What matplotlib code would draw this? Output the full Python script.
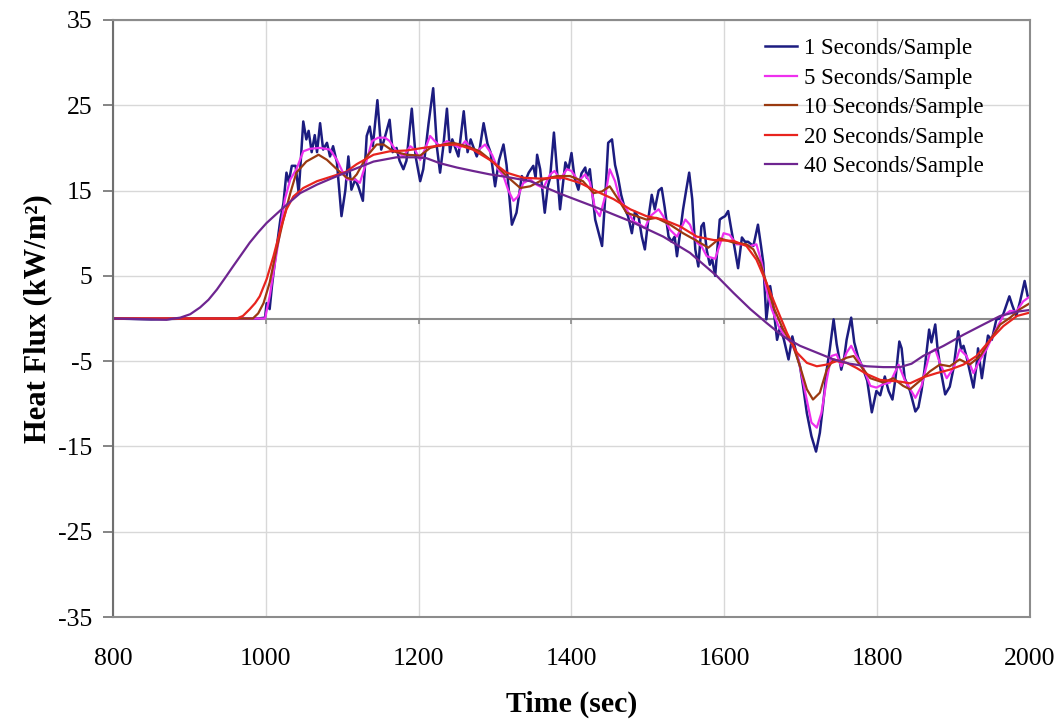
import numpy as np
import matplotlib
matplotlib.use("Agg")
import matplotlib.pyplot as plt

plt.rcParams['font.family'] = ['Liberation Serif', 'DejaVu Serif']
plt.rcParams['axes.unicode_minus'] = False

# heat flux readings (time s, kW/m2) at each sampling rate
flux_1s = [
    (800, 0.0), (850, -0.1), (900, 0.0), (950, 0.0), (990, 0.0), (999, 0.1),
    (1001, 1.8), (1005, 1.1), (1008, 3.8), (1013, 7.5), (1019, 11.6), (1023, 13.5),
    (1027, 17.1), (1030, 16.0), (1034, 17.9), (1039, 17.9), (1043, 14.7), (1049, 23.1),
    (1053, 21.0), (1056, 22.0), (1060, 19.5), (1064, 21.5), (1067, 19.5), (1071, 22.9),
    (1075, 19.8), (1080, 20.6), (1084, 19.0), (1088, 20.2), (1093, 18.3), (1099, 12.0),
    (1104, 15.0), (1108, 19.0), (1112, 15.1), (1117, 16.3), (1121, 15.5), (1127, 13.8),
    (1132, 21.4), (1136, 22.5), (1140, 20.2), (1146, 25.6), (1151, 19.8), (1155, 21.0),
    (1162, 23.3), (1166, 19.5), (1171, 20.0), (1175, 18.5), (1180, 17.5), (1184, 18.5),
    (1191, 24.6), (1196, 19.0), (1202, 16.1), (1206, 17.5), (1213, 22.9), (1219, 27.0),
    (1224, 20.0), (1228, 17.1), (1232, 20.0), (1237, 24.6), (1241, 19.5), (1244, 21.0),
    (1248, 20.0), (1252, 19.0), (1259, 24.3), (1264, 19.5), (1268, 21.0), (1276, 19.0),
    (1280, 20.0), (1285, 22.9), (1290, 20.5), (1294, 19.5), (1300, 15.5), (1305, 18.5),
    (1311, 20.4), (1315, 18.0), (1322, 11.0), (1328, 12.4), (1335, 16.7), (1339, 16.0),
    (1344, 17.1), (1350, 17.9), (1353, 16.5), (1355, 19.2), (1359, 17.5), (1365, 12.4),
    (1369, 15.5), (1372, 16.5), (1377, 21.8), (1380, 18.5), (1385, 12.8), (1389, 16.0),
    (1392, 18.3), (1396, 17.5), (1400, 19.4), (1404, 16.5), (1409, 15.1), (1413, 17.0),
    (1418, 17.7), (1420, 16.5), (1424, 17.5), (1427, 15.0), (1431, 11.6), (1440, 8.5),
    (1444, 14.0), (1448, 20.6), (1453, 21.0), (1457, 18.0), (1461, 16.5), (1465, 14.5),
    (1470, 12.8), (1474, 12.0), (1479, 10.0), (1483, 12.5), (1488, 11.8), (1492, 9.6),
    (1496, 8.1), (1501, 12.0), (1505, 14.5), (1509, 12.8), (1514, 15.0), (1518, 15.3),
    (1522, 13.0), (1527, 9.6), (1531, 9.0), (1535, 9.6), (1538, 7.3), (1542, 10.0),
    (1546, 12.8), (1550, 15.0), (1554, 17.1), (1558, 14.0), (1562, 8.1), (1566, 6.1),
    (1570, 10.8), (1573, 11.2), (1577, 8.0), (1581, 6.3), (1584, 7.0), (1588, 5.0),
    (1594, 11.6), (1597, 11.8), (1601, 12.0), (1605, 12.6), (1609, 10.5), (1613, 8.5),
    (1618, 5.9), (1623, 9.5), (1627, 9.0), (1631, 9.0), (1638, 8.5), (1644, 11.0),
    (1648, 8.5), (1651, 6.5), (1655, -0.1), (1660, 3.8), (1664, 1.5), (1669, -2.5),
    (1673, -1.0), (1678, -2.5), (1684, -4.8), (1689, -2.1), (1694, -4.0), (1699, -5.6),
    (1703, -7.9), (1708, -11.1), (1714, -13.8), (1720, -15.6), (1725, -13.4), (1729, -10.3),
    (1734, -6.0), (1738, -3.6), (1743, -0.1), (1747, -3.0), (1753, -6.0), (1757, -4.5),
    (1760, -2.5), (1766, 0.1), (1770, -2.8), (1775, -4.5), (1782, -6.0), (1787, -7.3),
    (1793, -11.0), (1799, -8.5), (1804, -9.0), (1810, -6.8), (1815, -8.5), (1820, -9.5),
    (1824, -7.0), (1829, -2.7), (1832, -3.5), (1836, -7.0), (1843, -8.5), (1850, -10.9),
    (1854, -10.4), (1858, -8.5), (1862, -6.0), (1868, -1.3), (1871, -2.8), (1876, -0.7),
    (1879, -3.5), (1883, -6.0), (1889, -8.9), (1895, -8.0), (1900, -5.8), (1906, -1.5),
    (1910, -3.6), (1913, -3.2), (1917, -4.5), (1926, -8.1), (1930, -5.5), (1932, -3.5),
    (1937, -7.0), (1941, -4.5), (1945, -2.0), (1950, -2.5), (1956, -0.1), (1961, 0.0),
    (1965, 0.5), (1973, 2.6), (1977, 1.5), (1982, 0.3), (1987, 2.0), (1993, 4.4),
    (1997, 2.6), (2000, 2.5),
]

flux_5s = [
    (800, 0.0), (900, 0.0), (990, 0.0), (999, 0.0), (1005, 2.6), (1012, 6.5),
    (1019, 10.4), (1025, 14.0), (1032, 16.3), (1040, 17.5), (1049, 19.6), (1058, 19.9),
    (1071, 20.0), (1084, 19.8), (1093, 18.6), (1101, 17.1), (1106, 16.3), (1117, 16.3),
    (1123, 15.9), (1130, 17.9), (1139, 20.8), (1147, 21.2), (1156, 21.2), (1162, 20.8),
    (1171, 19.6), (1180, 19.0), (1189, 20.2), (1195, 19.8), (1202, 18.6), (1208, 19.8),
    (1215, 21.4), (1221, 20.8), (1228, 20.2), (1237, 20.8), (1245, 20.4), (1254, 20.0),
    (1261, 20.8), (1268, 20.0), (1276, 19.6), (1287, 20.4), (1296, 19.2), (1304, 17.5),
    (1311, 16.7), (1317, 15.1), (1324, 13.8), (1330, 14.3), (1337, 15.9), (1346, 16.3),
    (1354, 15.7), (1363, 15.3), (1372, 16.9), (1378, 17.3), (1385, 16.3), (1394, 17.5),
    (1400, 17.3), (1409, 16.1), (1418, 16.9), (1424, 16.0), (1431, 12.8), (1437, 12.0),
    (1444, 14.3), (1450, 17.5), (1457, 16.1), (1463, 14.0), (1472, 12.8), (1481, 11.4),
    (1490, 11.0), (1496, 10.6), (1503, 12.0), (1514, 12.8), (1520, 12.0), (1529, 10.4),
    (1538, 9.6), (1549, 11.6), (1555, 11.0), (1564, 8.9), (1570, 8.5), (1577, 7.3),
    (1588, 7.0), (1599, 10.0), (1607, 9.8), (1616, 8.7), (1625, 8.7), (1634, 8.5),
    (1642, 8.7), (1649, 6.5), (1655, 3.4), (1662, 1.1), (1671, -0.9), (1679, -2.1),
    (1688, -2.9), (1697, -4.8), (1706, -8.7), (1714, -12.2), (1721, -12.8), (1727, -11.1),
    (1734, -7.2), (1740, -4.4), (1747, -4.2), (1753, -5.6), (1760, -4.0), (1766, -3.2),
    (1773, -4.4), (1782, -5.8), (1791, -7.9), (1799, -8.1), (1808, -7.7), (1817, -7.5),
    (1828, -5.4), (1836, -7.2), (1850, -9.3), (1858, -7.9), (1869, -4.0), (1876, -3.6),
    (1882, -5.2), (1891, -7.0), (1900, -5.8), (1908, -3.6), (1917, -4.4), (1926, -6.4),
    (1935, -4.8), (1943, -3.6), (1952, -1.9), (1965, 0.3), (1974, 0.9), (1982, 0.8),
    (1991, 2.0), (2000, 2.6),
]

flux_10s = [
    (800, 0.0), (900, 0.0), (983, 0.0), (990, 0.6), (997, 1.8), (1005, 4.2), (1014, 8.1),
    (1023, 11.6), (1032, 14.7), (1040, 17.1), (1053, 18.4), (1069, 19.2), (1080, 18.6),
    (1093, 17.5), (1106, 16.5), (1113, 16.3), (1119, 16.9), (1132, 19.0), (1145, 20.4),
    (1154, 20.4), (1167, 19.6), (1184, 19.2), (1202, 19.1), (1215, 20.0), (1232, 20.4),
    (1245, 20.6), (1263, 20.2), (1280, 19.6), (1298, 18.3), (1315, 16.7), (1333, 15.3),
    (1346, 15.5), (1363, 16.3), (1381, 16.7), (1398, 16.7), (1415, 16.1), (1429, 14.7),
    (1440, 14.9), (1450, 15.5), (1461, 14.0), (1472, 12.4), (1485, 12.0), (1498, 11.6),
    (1511, 11.8), (1529, 11.0), (1546, 10.0), (1564, 9.1), (1579, 8.3), (1594, 9.4),
    (1612, 8.9), (1629, 8.7), (1638, 8.1), (1647, 6.5), (1655, 4.2), (1664, 1.4),
    (1677, -1.3), (1690, -3.2), (1699, -5.6), (1708, -8.3), (1716, -9.5), (1725, -8.7),
    (1734, -6.0), (1743, -4.8), (1751, -5.0), (1760, -4.6), (1769, -4.4), (1777, -5.4),
    (1791, -7.0), (1808, -7.5), (1821, -7.0), (1834, -7.9), (1843, -8.3), (1856, -7.3),
    (1869, -6.2), (1882, -5.4), (1895, -5.6), (1908, -4.8), (1921, -5.4), (1935, -4.4),
    (1948, -2.5), (1961, -0.7), (1974, 0.1), (1987, 1.1), (2000, 1.8),
]

flux_20s = [
    (800, 0.0), (900, 0.0), (962, 0.0), (970, 0.3), (979, 1.1), (986, 1.8), (992, 2.6),
    (1001, 4.6), (1010, 7.3), (1019, 10.4), (1027, 12.8), (1036, 14.3), (1049, 15.3),
    (1067, 16.1), (1088, 16.7), (1105, 17.2), (1119, 18.1), (1141, 19.2), (1162, 19.6),
    (1184, 19.7), (1206, 20.0), (1228, 20.3), (1250, 20.4), (1271, 19.8), (1293, 18.6),
    (1315, 17.1), (1337, 16.5), (1359, 16.4), (1378, 16.5), (1389, 16.5), (1411, 15.9),
    (1433, 14.9), (1455, 14.0), (1477, 12.8), (1498, 12.0), (1520, 11.6), (1542, 10.8),
    (1564, 9.6), (1586, 9.2), (1612, 9.1), (1629, 8.5), (1642, 6.9), (1655, 4.2),
    (1669, 1.1), (1682, -1.7), (1695, -4.0), (1708, -5.2), (1721, -5.6), (1734, -5.4),
    (1747, -5.0), (1760, -5.2), (1773, -5.8), (1786, -6.5), (1804, -7.2), (1830, -7.4),
    (1843, -7.6), (1860, -6.9), (1878, -6.4), (1895, -6.0), (1913, -5.4), (1930, -4.4),
    (1948, -2.5), (1965, -0.9), (1983, 0.3), (2000, 0.7),
]

flux_40s = [
    (800, 0.0), (850, -0.1), (870, -0.15), (880, 0.0), (888, 0.1), (901, 0.5),
    (914, 1.3), (925, 2.2), (936, 3.4), (947, 4.8), (957, 6.1), (968, 7.5), (979, 8.9),
    (990, 10.1), (1001, 11.2), (1012, 12.1), (1023, 13.0), (1045, 14.7), (1067, 15.7),
    (1088, 16.5), (1110, 17.3), (1141, 18.4), (1171, 18.9), (1195, 18.9), (1210, 18.8),
    (1228, 18.2), (1250, 17.7), (1271, 17.3), (1293, 16.9), (1315, 16.6), (1346, 16.1),
    (1389, 14.5), (1433, 13.0), (1477, 11.4), (1520, 9.6), (1555, 7.7), (1590, 5.0),
    (1612, 3.0), (1634, 1.1), (1655, -0.5), (1677, -2.1), (1699, -3.2), (1721, -4.0),
    (1743, -4.8), (1764, -5.3), (1786, -5.6), (1808, -5.7), (1830, -5.7), (1845, -5.3),
    (1860, -4.4), (1887, -3.2), (1913, -1.9), (1939, -0.7), (1961, 0.3), (1983, 0.8),
    (2000, 1.0),
]

series = [
    (flux_1s, '1 Seconds/Sample', '#1c1c80', 1.8),
    (flux_5s, '5 Seconds/Sample', '#ee30ee', 1.6),
    (flux_10s, '10 Seconds/Sample', '#9a3a10', 1.6),
    (flux_20s, '20 Seconds/Sample', '#e8241e', 1.6),
    (flux_40s, '40 Seconds/Sample', '#6e2590', 1.6),
]

x_ticks = [800, 1000, 1200, 1400, 1600, 1800, 2000]
y_ticks = [-35, -25, -15, -5, 5, 15, 25, 35]

fig = plt.figure(figsize=(10.6, 7.21), dpi=100)
ax = fig.add_axes([0.1066, 0.1442, 0.8651, 0.8281])

for data, label, color, lw in series:
    t, q = np.array(data).T
    ax.plot(t, q, color=color, lw=lw, label=label)

ax.set_xlim(800, 2000)
ax.set_ylim(-35, 35)
ax.set_xticks(x_ticks)
ax.set_yticks(y_ticks)
ax.grid(True, color='#d8d8d8', lw=1.0)
ax.set_axisbelow(True)

# zero line acts as the category axis, with short tick marks
ax.axhline(0, color='#8c8c8c', lw=1.5, zorder=1)
ax.vlines(x_ticks[1:-1], -0.7, 0, color='#8c8c8c', lw=1.2, zorder=1)

for s in ax.spines.values():
    s.set_color('#8c8c8c')
    s.set_linewidth(1.5)
ax.spines['left'].set_color('#707070')

ax.tick_params(axis='y', direction='out', length=7, width=1.2, color='#707070',
               labelsize=18.5, pad=8)
ax.tick_params(axis='x', length=0, labelsize=18.5, pad=22)

ax.set_xlabel('Time (sec)', fontsize=21.5, fontweight='bold', labelpad=15)
ax.set_ylabel('Heat Flux (kW/m²)', fontsize=22, fontweight='bold', labelpad=4)

ax.legend(loc='upper left', bbox_to_anchor=(0.7217, 0.947), bbox_transform=fig.transFigure,
          frameon=False, fontsize=16.5, handlelength=1.4, handletextpad=0.3,
          labelspacing=0.37, borderpad=0, borderaxespad=0)

fig.savefig('out.png', dpi=100)
